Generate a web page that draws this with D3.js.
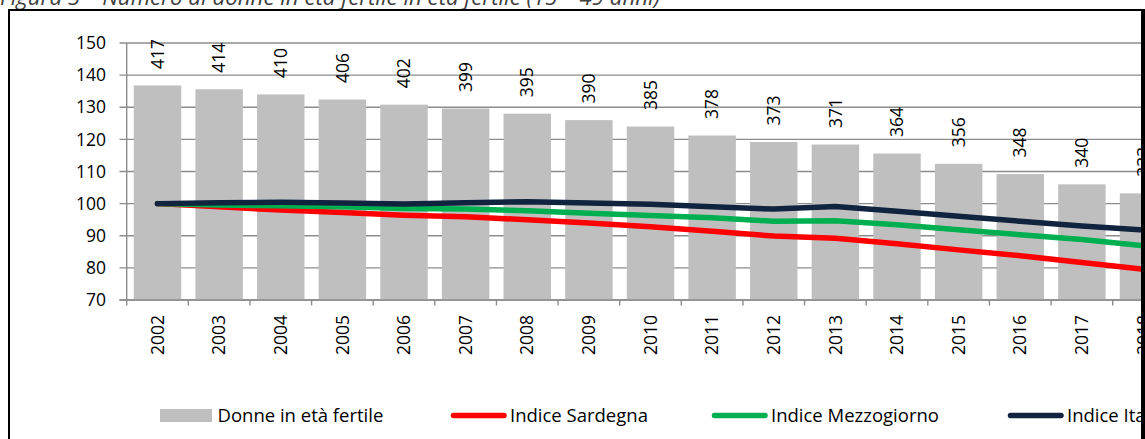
<!DOCTYPE html>
<html><head><meta charset="utf-8">
<script src="https://cdn.jsdelivr.net/npm/d3@7"></script>
<style>
html,body{margin:0;padding:0;background:#fff;overflow:hidden;}
text{font-family:"Open Sans",sans-serif;}
</style></head>
<body>
<svg id="chart" width="1145" height="439"></svg>
<script>
const years = ["2002","2003","2004","2005","2006","2007","2008","2009","2010","2011","2012","2013","2014","2015","2016","2017","2018"];
const donne = [417,414,410,406,402,399,395,390,385,378,373,371,364,356,348,340,333];
const sardegna = [100,99.0,98.0,97.2,96.4,95.9,95.0,94.0,92.8,91.4,89.9,89.2,87.5,85.6,83.8,81.7,79.6];
const mezzogiorno = [100,99.6,99.3,99.0,98.5,98.3,97.8,97.0,96.3,95.6,94.5,94.7,93.4,91.9,90.3,88.8,86.9];
const italia = [100,100.3,100.4,100.2,99.9,100.3,100.6,100.2,99.8,99.0,98.3,99.1,97.6,96.1,94.5,93.0,91.8];
const yTicks = [70,80,90,100,110,120,130,140,150];
const titleText = "Figura 5 – Numero di donne in età fertile in età fertile (15 – 49 anni)";
const legendItems = [
  {label:"Donne in età fertile", type:"bar", color:"#BFBFBF"},
  {label:"Indice Sardegna", type:"line", color:"#FF0000"},
  {label:"Indice Mezzogiorno", type:"line", color:"#00B050"},
  {label:"Indice Italia", type:"line", color:"#10233F"}
];

const svg = d3.select("#chart");
const pLeft = 126.7, pTop = 43, pBottom = 300, step = 61.625;
const x = d3.scaleBand().domain(years).range([pLeft, pLeft + step*years.length]).paddingInner(0.23).paddingOuter(0.115);
const y = d3.scaleLinear().domain([70,150]).range([pBottom, pTop]);
const y2 = d3.scaleLinear().domain([250,450]).range([pBottom, pTop]);
const xc = d => x(d) + x.bandwidth()/2;

// title (cut off at top)
svg.append("text").attr("x", 0).attr("y", 5).attr("font-style","italic").attr("font-size",21)
  .attr("fill","#404040").attr("textLength",660).attr("lengthAdjust","spacingAndGlyphs").text(titleText);

// frame
svg.append("path").attr("d", `M9,440 V10 H1145`).attr("fill","none").attr("stroke","#000").attr("stroke-width",2);

// gridlines + y ticks
const gGrid = svg.append("g");
gGrid.selectAll("line").data(yTicks).join("line")
  .attr("x1", 119.5).attr("x2", 1200).attr("y1", d=>y(d)).attr("y2", d=>y(d))
  .attr("stroke","#8c8c8c").attr("stroke-width",1.4);
svg.append("line").attr("x1",pLeft).attr("x2",pLeft).attr("y1",pTop).attr("y2",pBottom)
  .attr("stroke","#8c8c8c").attr("stroke-width",1.4);
svg.append("g").selectAll("text").data(yTicks).join("text")
  .attr("x",106).attr("y",d=>y(d)).attr("dy","0.35em").attr("text-anchor","end")
  .attr("font-size",17.5).attr("fill","#000").text(d=>d);

// bars
svg.append("g").selectAll("rect").data(years).join("rect")
  .attr("x", d=>x(d)).attr("width", x.bandwidth())
  .attr("y", (d,i)=>y2(donne[i])).attr("height",(d,i)=>pBottom - y2(donne[i]))
  .attr("fill","#BFBFBF");

// bottom axis
svg.append("line").attr("x1",119.5).attr("x2",1200).attr("y1",pBottom).attr("y2",pBottom)
  .attr("stroke","#8c8c8c").attr("stroke-width",1.4);
const bounds = d3.range(years.length+1).map(i=>pLeft + i*step);
svg.append("g").selectAll("line").data(bounds).join("line")
  .attr("x1",d=>d).attr("x2",d=>d).attr("y1",pBottom).attr("y2",pBottom+5.5)
  .attr("stroke","#8c8c8c").attr("stroke-width",1.4);
svg.append("g").selectAll("text").data(years).join("text")
  .attr("transform", d=>`translate(${xc(d)},${pBottom+15}) rotate(-90)`)
  .attr("text-anchor","end").attr("dy","0.35em").attr("font-size",17.5).attr("fill","#000").text(d=>d);

// bar labels
svg.append("g").selectAll("text").data(years).join("text")
  .attr("transform", (d,i)=>`translate(${xc(d)},${y2(donne[i]) - 16.5}) rotate(-90)`)
  .attr("text-anchor","start").attr("dy","0.35em").attr("font-size",17.5).attr("fill","#000")
  .text((d,i)=>donne[i]);

// lines
const line = d3.line().x((d,i)=>xc(years[i])).y(d=>y(d));
[[sardegna,"#FF0000"],[mezzogiorno,"#00B050"],[italia,"#10233F"]].forEach(([s,c])=>{
  svg.append("path").datum(s).attr("d",line).attr("fill","none").attr("stroke",c)
    .attr("stroke-width",5.5).attr("stroke-linecap","round").attr("stroke-linejoin","round");
});

// legend
const legX = [160, 451, 712, 1008];
const legY = 415.5;
legendItems.forEach((it,i)=>{
  const g = svg.append("g");
  if(it.type==="bar"){
    g.append("rect").attr("x",legX[i]).attr("y",legY-6.5).attr("width",52).attr("height",13).attr("fill",it.color);
    g.append("text").attr("x",legX[i]+57.5).attr("y",legY).attr("dy","0.35em").attr("font-size",18.5).text(it.label);
  } else {
    g.append("line").attr("x1",legX[i]+2.5).attr("x2",legX[i]+53).attr("y1",legY).attr("y2",legY)
      .attr("stroke",it.color).attr("stroke-width",5.5).attr("stroke-linecap","round");
    g.append("text").attr("x",legX[i]+59).attr("y",legY).attr("dy","0.35em").attr("font-size",18.5).text(it.label);
  }
});

// right black edge
svg.append("rect").attr("x",1141).attr("y",9).attr("width",4).attr("height",430).attr("fill","#000");
</script>
</body></html>
